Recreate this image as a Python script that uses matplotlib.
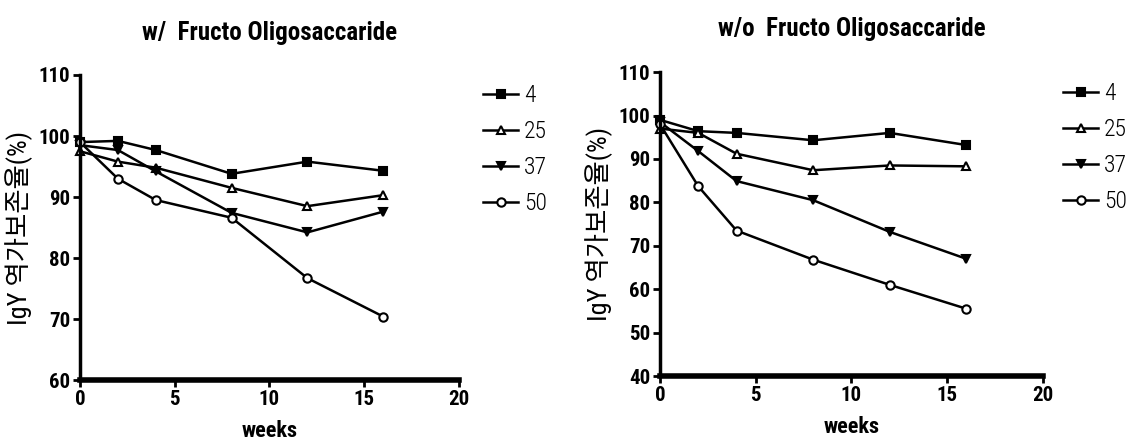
import matplotlib.pyplot as plt

plt.rcParams['font.family'] = ['Roboto Condensed', 'Noto Sans CJK KR', 'DejaVu Sans']

weeks = [0, 2, 4, 8, 12, 16]
groups = ['4', '25', '37', '50']
markers = ['s', '^', 'v', 'o']
fills = ['black', 'white', 'black', 'white']

# retention (%) with fructo-oligosaccharide
with_fos = {
    '4':  [99.0, 99.2, 97.7, 93.8, 95.8, 94.3],
    '25': [97.5, 95.8, 94.8, 91.5, 88.5, 90.3],
    '37': [98.5, 97.7, 94.2, 87.4, 84.2, 87.6],
    '50': [99.0, 93.0, 89.5, 86.6, 76.7, 70.4],
}
# retention (%) without fructo-oligosaccharide
without_fos = {
    '4':  [99.0, 96.4, 96.0, 94.3, 96.0, 93.2],
    '25': [97.0, 96.0, 91.2, 87.4, 88.5, 88.3],
    '37': [98.5, 91.8, 84.9, 80.5, 73.2, 67.0],
    '50': [98.0, 83.7, 73.5, 66.8, 61.0, 55.5],
}

fig = plt.figure(figsize=(11.33, 4.43), dpi=100)
ax1 = fig.add_axes([0.0706, 0.1422, 0.3345, 0.6885])
ax2 = fig.add_axes([0.5825, 0.1512, 0.338, 0.686])

panels = [
    (ax1, with_fos, 'w/  Fructo Oligosaccaride', (60, 110), 25, (1.063, 0.97)),
    (ax2, without_fos, 'w/o  Fructo Oligosaccaride', (40, 110), 26, (1.052, 0.968)),
]

for ax, data, title, ylim, tpad, lpos in panels:
    for g, m, fc in zip(groups, markers, fills):
        ax.plot(weeks, data[g], '-', color='black', lw=1.8, marker=m,
                markersize=6, markerfacecolor=fc, markeredgecolor='black',
                markeredgewidth=1.5, label=g, clip_on=False)
    ax.set_xlim(0, 20)
    ax.set_ylim(*ylim)
    ax.set_xticks([0, 5, 10, 15, 20])
    ax.set_yticks(range(ylim[0], ylim[1] + 1, 10))
    ax.spines['top'].set_visible(False)
    ax.spines['right'].set_visible(False)
    ax.spines['left'].set_linewidth(2.5)
    ax.spines['bottom'].set_linewidth(4)
    ax.tick_params(width=2, length=5, labelsize=15, pad=2)
    for lab in ax.get_xticklabels() + ax.get_yticklabels():
        lab.set_fontweight('bold')
    ax.set_xlabel('weeks', fontsize=16, fontweight='bold', labelpad=8)
    ax.set_ylabel('IgY 역가보존율(%)', fontsize=19, labelpad=4)
    ax.set_title(title, fontsize=18, fontweight='bold', pad=tpad)
    ax.legend(loc='upper left', bbox_to_anchor=lpos, frameon=False,
              prop={'family': 'Roboto Condensed', 'weight': 'light', 'size': 17},
              handlelength=1.5, handletextpad=0.25, borderpad=0,
              labelspacing=0.55, borderaxespad=0)

fig.savefig('out.png', dpi=100)
